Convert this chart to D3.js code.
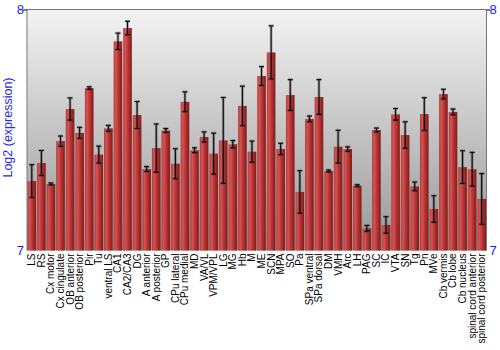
<!DOCTYPE html>
<html>
<head>
<meta charset="utf-8">
<script src="https://cdn.jsdelivr.net/npm/d3@7"></script>
<style>
body { margin: 0; background: #fff; }
svg { display: block; font-family: "Liberation Sans", Arial, sans-serif; }
</style>
</head>
<body>
<svg width="500" height="350"></svg>
<script>
var regions = ["LS", "RS", "Cx motor", "Cx cingulate", "OB anterior", "OB posterior", "Pir", "Tu",
	"ventral LS", "CA1", "CA2/CA3", "DG", "A anterior", "A posterior", "GP", "CPu lateral",
	"CPu medial", "MD", "VA/VL", "VPM/VPL", "LG", "MG", "Hb", "M", "ME", "SCN", "MPA", "SO",
	"Pa", "SPa ventral", "SPa dorsal", "DM", "VMH", "Arc", "LH", "PAG", "SC", "IC", "VTA",
	"SN", "Tg", "Pn", "MVe", "Cb vermis", "Cb lobe", "Cb nucleus", "spinal cord anterior",
	"spinal cord posterior"];

var expression = [7.288, 7.363, 7.276, 7.454, 7.587, 7.488, 7.674, 7.398,
	7.507, 7.868, 7.923, 7.562, 7.338, 7.425, 7.498, 7.360,
	7.617, 7.416, 7.471, 7.402, 7.457, 7.441, 7.600, 7.410, 7.724, 7.822, 7.421, 7.645,
	7.243, 7.546, 7.637, 7.330, 7.431, 7.421, 7.269, 7.092, 7.500, 7.106, 7.565,
	7.479, 7.266, 7.566, 7.172, 7.649, 7.575, 7.346, 7.337,
	7.214];

var stderr = [0.068, 0.052, 0.004, 0.021, 0.046, 0.023, 0.005, 0.035,
	0.012, 0.034, 0.028, 0.056, 0.010, 0.100, 0.008, 0.062,
	0.041, 0.010, 0.021, 0.085, 0.178, 0.015, 0.082, 0.044, 0.039, 0.110, 0.024, 0.064,
	0.088, 0.012, 0.072, 0.004, 0.068, 0.009, 0.004, 0.012, 0.008, 0.034, 0.024,
	0.055, 0.018, 0.068, 0.055, 0.020, 0.012, 0.068, 0.070,
	0.105];

var yTicks = [7, 8];

var data = regions.map(function(r, i) { return { name: r, value: expression[i], err: stderr[i] }; });

var svgWidth = 500, svgHeight = 350;
var margin = { top: 9.5, right: 13.5, bottom: 99.5, left: 27 },
	width = svgWidth - margin.left - margin.right,
	height = svgHeight - margin.top - margin.bottom;

var svg = d3.select("svg");
var defs = svg.append("defs");

var bg = defs.append("linearGradient").attr("id", "bg")
	.attr("x1", 0).attr("y1", 0).attr("x2", 0).attr("y2", 1);
bg.append("stop").attr("offset", "0%").attr("stop-color", "#f3f3f3");
bg.append("stop").attr("offset", "100%").attr("stop-color", "#979797");

var bar = defs.append("linearGradient").attr("id", "bar")
	.attr("x1", 0).attr("y1", 0).attr("x2", 1).attr("y2", 0);
bar.append("stop").attr("offset", "0%").attr("stop-color", "#b23a3a");
bar.append("stop").attr("offset", "25%").attr("stop-color", "#d45454");
bar.append("stop").attr("offset", "55%").attr("stop-color", "#bb3434");
bar.append("stop").attr("offset", "100%").attr("stop-color", "#7c1c1c");

var g = svg.append("g").attr("transform", "translate(" + margin.left + "," + margin.top + ")");

var xScale = d3.scaleBand()
	.domain(regions)
	.range([0, width])
	.paddingInner(0.1)
	.paddingOuter(0.05);

var yScale = d3.scaleLinear()
	.domain([7, 8])
	.range([height, 0]);

g.append("rect")
	.attr("width", width)
	.attr("height", height)
	.attr("fill", "url(#bg)");

// bars
g.selectAll(".bar")
	.data(data)
	.enter().append("rect")
		.attr("class", "bar")
		.attr("x", function(d) { return xScale(d.name); })
		.attr("y", function(d) { return yScale(d.value); })
		.attr("width", xScale.bandwidth())
		.attr("height", function(d) { return height - yScale(d.value); })
		.attr("fill", "url(#bar)");

// error bars: grey shadow then black line
var eb = g.selectAll(".err")
	.data(data)
	.enter().append("g")
		.attr("class", "err")
		.attr("transform", function(d) { return "translate(" + (xScale(d.name) + xScale.bandwidth() / 2) + ",0)"; });

function errPath(d) {
	var t = yScale(d.value + d.err), b = yScale(d.value - d.err);
	return "M-2.5," + t + "H2.5M0," + t + "V" + b + "M-2.5," + b + "H2.5";
}

eb.append("path")
	.attr("d", errPath)
	.attr("stroke", "rgba(60,60,60,0.45)")
	.attr("stroke-width", 2.6)
	.attr("fill", "none");

eb.append("path")
	.attr("d", errPath)
	.attr("stroke", "#000")
	.attr("stroke-width", 1)
	.attr("fill", "none");

// frame lines
g.append("line").attr("x1", 0).attr("x2", width).attr("y1", 0).attr("y2", 0)
	.attr("stroke", "#777").attr("stroke-width", 1);
g.append("line").attr("x1", 0).attr("x2", 0).attr("y1", 0).attr("y2", height)
	.attr("stroke", "#777").attr("stroke-width", 1);
g.append("line").attr("x1", width).attr("x2", width).attr("y1", 0).attr("y2", height)
	.attr("stroke", "#777").attr("stroke-width", 1);

// y ticks both sides
var yAxisL = d3.axisLeft(yScale).tickValues(yTicks).tickSize(4).tickFormat(d3.format("d"));
var yAxisR = d3.axisRight(yScale).tickValues(yTicks).tickSize(4).tickFormat(d3.format("d"));

var gl = g.append("g").call(yAxisL);
var gr = g.append("g").attr("transform", "translate(" + width + ",0)").call(yAxisR);
[gl, gr].forEach(function(a) {
	a.select(".domain").remove();
	a.selectAll(".tick line")
		.attr("stroke", "#000")
		.attr("opacity", function(d) { return d === 7 ? 0 : 1; });
	a.selectAll(".tick text")
		.attr("fill", "#1a1aff")
		.style("font-size", "13px")
		.style("font-family", "'Liberation Sans', Arial, sans-serif");
});
gl.selectAll(".tick text").attr("x", -3);
gr.selectAll(".tick text").attr("x", 3);

// x labels
g.append("g")
	.selectAll("text")
	.data(regions)
	.enter().append("text")
		.attr("transform", function(d) {
			return "translate(" + (xScale(d) + xScale.bandwidth() / 2) + "," + (height + 3) + ") rotate(-90)";
		})
		.attr("dy", "0.35em")
		.style("text-anchor", "end")
		.style("font-size", "10px")
		.attr("fill", "#000")
		.text(function(d) { return d; });

// y title
svg.append("text")
	.attr("transform", "translate(12," + (margin.top + 118) + ") rotate(-90)")
	.style("text-anchor", "middle")
	.style("font-size", "12.5px")
	.attr("fill", "#2a2aee")
	.text("Log2 (expression)");
</script>
</body>
</html>
